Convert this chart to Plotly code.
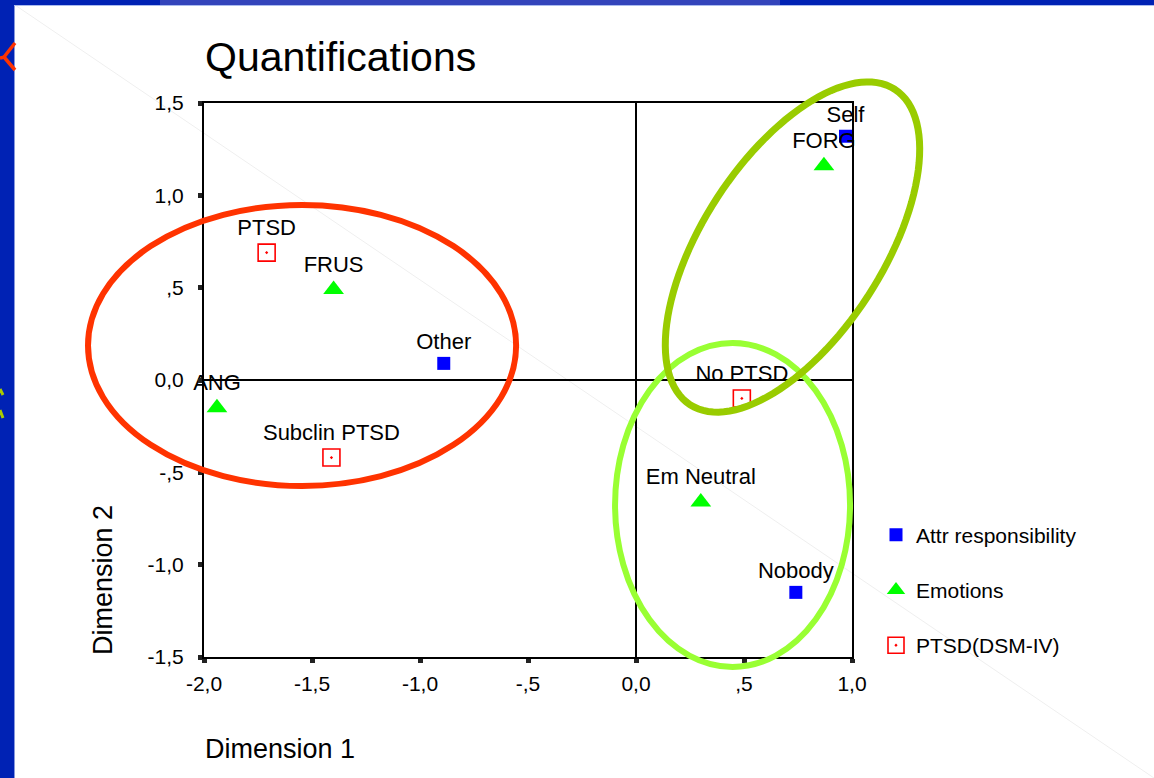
import math
import plotly.graph_objects as go

# ---------------- data ----------------
attr_labels = ["Self", "Other", "Nobody"]
attr_x = [0.97, -0.89, 0.74]
attr_y = [1.32, 0.09, -1.15]

emo_labels = ["FORG", "FRUS", "ANG", "Em Neutral"]
emo_x = [0.87, -1.40, -1.94, 0.30]
emo_y = [1.16, 0.49, -0.15, -0.66]

ptsd_labels = ["PTSD", "Subclin PTSD", "No PTSD"]
ptsd_x = [-1.71, -1.41, 0.49]
ptsd_y = [0.69, -0.42, -0.10]

x_ticks = [-2.0, -1.5, -1.0, -0.5, 0.0, 0.5, 1.0]
x_ticktext = ["-2,0", "-1,5", "-1,0", "-,5", "0,0", ",5", "1,0"]
y_ticks = [1.5, 1.0, 0.5, 0.0, -0.5, -1.0, -1.5]
y_ticktext = ["1,5", "1,0", ",5", "0,0", "-,5", "-1,0", "-1,5"]

X_RANGE = [-2.0, 1.0]
Y_RANGE = [-1.5, 1.5]

# ---------------- layout geometry ----------------
FIG_W, FIG_H = 1154, 778
M_L, M_R, M_T, M_B = 204, 302, 103, 121
PW = FIG_W - M_L - M_R
PH = FIG_H - M_T - M_B

FONT = "Liberation Sans, Arial, sans-serif"


def px2paper_x(px):
    return (px - M_L) / PW


def px2paper_y(py):
    return (FIG_H - M_B - py) / PH


def dx_dom(x):
    return (x - X_RANGE[0]) / (X_RANGE[1] - X_RANGE[0])


def dy_dom(y):
    return (y - Y_RANGE[0]) / (Y_RANGE[1] - Y_RANGE[0])


fig = go.Figure()

common_text = dict(mode="markers+text", textposition="top center",
                   textfont=dict(family=FONT, size=22, color="black"),
                   cliponaxis=False)

fig.add_trace(go.Scatter(
    x=attr_x, y=attr_y, text=attr_labels, name="Attr responsibility",
    legendgroup="a",
    marker=dict(symbol="square", size=13, color="#0000FF",
                line=dict(width=0)),
    **common_text))
fig.add_trace(go.Scatter(
    x=emo_x, y=emo_y, text=emo_labels, name="Emotions",
    legendgroup="b",
    marker=dict(symbol="triangle-up", size=18, color="#00FF00",
                line=dict(width=0)),
    **common_text))
fig.add_trace(go.Scatter(
    x=ptsd_x, y=ptsd_y, text=ptsd_labels, name="PTSD(DSM-IV)",
    legendgroup="c",
    marker=dict(symbol="square-open-dot", size=17, color="#FF0000",
                line=dict(width=1.6, color="#FF0000")),
    **common_text))

shapes = []

# slide decorations (background)
shapes.append(dict(type="line", xref="paper", yref="paper",
                   x0=px2paper_x(15), y0=px2paper_y(5),
                   x1=px2paper_x(1154), y1=px2paper_y(778),
                   line=dict(color="#efefef", width=1), layer="below"))
shapes.append(dict(type="rect", xref="paper", yref="paper",
                   x0=px2paper_x(0), x1=px2paper_x(14),
                   y0=px2paper_y(0), y1=px2paper_y(778),
                   fillcolor="#0022B4", line=dict(width=0), layer="below"))
shapes.append(dict(type="rect", xref="paper", yref="paper",
                   x0=px2paper_x(0), x1=px2paper_x(1154),
                   y0=px2paper_y(0), y1=px2paper_y(5),
                   fillcolor="#0022B4", line=dict(width=0), layer="below"))
shapes.append(dict(type="rect", xref="paper", yref="paper",
                   x0=px2paper_x(160), x1=px2paper_x(780),
                   y0=px2paper_y(0), y1=px2paper_y(5),
                   fillcolor="#3344BB", line=dict(width=0), layer="below"))
shapes.append(dict(type="line", xref="paper", yref="paper",
                   x0=px2paper_x(14.5), x1=px2paper_x(14.5),
                   y0=px2paper_y(5), y1=px2paper_y(778),
                   line=dict(color="#8899DD", width=1), layer="below"))
shapes.append(dict(type="line", xref="paper", yref="paper",
                   x0=px2paper_x(14), x1=px2paper_x(1154),
                   y0=px2paper_y(5.5), y1=px2paper_y(5.5),
                   line=dict(color="#AABBEE", width=1), layer="below"))
# red mark at top left
for (a, b, c, d) in [(15, 43, 4, 57), (4, 57, 15, 70), (0, 58, 5, 57)]:
    shapes.append(dict(type="line", xref="paper", yref="paper",
                       x0=px2paper_x(a), y0=px2paper_y(b),
                       x1=px2paper_x(c), y1=px2paper_y(d),
                       line=dict(color="#FF3300", width=3.5), layer="below"))
# yellow-green mark on left strip
for (a, b, c, d) in [(0, 389, 3, 395), (0, 410, 3, 418)]:
    shapes.append(dict(type="line", xref="paper", yref="paper",
                       x0=px2paper_x(a), y0=px2paper_y(b),
                       x1=px2paper_x(c), y1=px2paper_y(d),
                       line=dict(color="#AACC00", width=3), layer="below"))

# ellipses (annotation overlays, data-unit centres and radii)
red_c, red_r = (-1.546, 0.187), (0.991, 0.761)
lg_c, lg_r = (0.447, -0.677), (0.544, 0.877)
ol_c = (0.7245, 0.72)
ol_a, ol_b, ol_theta = 188.0, 90.0, 57.0   # semi-axes (px) and tilt (deg)

shapes.append(dict(type="circle", xref="x domain", yref="y domain",
                   x0=dx_dom(red_c[0] - red_r[0]), x1=dx_dom(red_c[0] + red_r[0]),
                   y0=dy_dom(red_c[1] - red_r[1]), y1=dy_dom(red_c[1] + red_r[1]),
                   line=dict(color="#FF3300", width=6), layer="above"))
shapes.append(dict(type="circle", xref="x domain", yref="y domain",
                   x0=dx_dom(lg_c[0] - lg_r[0]), x1=dx_dom(lg_c[0] + lg_r[0]),
                   y0=dy_dom(lg_c[1] - lg_r[1]), y1=dy_dom(lg_c[1] + lg_r[1]),
                   line=dict(color="#99FF33", width=6), layer="above"))

th = math.radians(ol_theta)
pts = []
n = 120
for i in range(n):
    t = 2 * math.pi * i / n
    dxp = ol_a * math.cos(t) * math.cos(th) - ol_b * math.sin(t) * math.sin(th)
    dyp = ol_a * math.cos(t) * math.sin(th) + ol_b * math.sin(t) * math.cos(th)
    xd = dx_dom(ol_c[0]) + dxp / PW
    yd = dy_dom(ol_c[1]) + dyp / PH
    pts.append(f"{xd:.5f},{yd:.5f}")
path = "M" + " L".join(pts) + " Z"
shapes.append(dict(type="path", xref="x domain", yref="y domain", path=path,
                   line=dict(color="#99CC00", width=7), layer="above"))

annotations = [
    dict(text="Dimension 1", xref="paper", yref="paper",
         x=px2paper_x(203), y=px2paper_y(749), xanchor="left", yanchor="middle",
         showarrow=False, font=dict(family=FONT, size=27, color="black")),
    dict(text="Dimension 2", xref="paper", yref="paper",
         x=px2paper_x(103), y=px2paper_y(580), xanchor="center", yanchor="middle",
         textangle=-90, showarrow=False,
         font=dict(family=FONT, size=27, color="black")),
]

axis_common = dict(showgrid=False, showline=True, mirror=True, linewidth=2,
                   linecolor="black", zeroline=True, zerolinecolor="black",
                   zerolinewidth=1.5, ticks="outside", ticklen=4, tickwidth=5,
                   tickcolor="#222222",
                   tickfont=dict(family=FONT, size=21, color="black"))

fig.update_layout(
    width=FIG_W, height=FIG_H,
    margin=dict(l=M_L, r=M_R, t=M_T, b=M_B, autoexpand=False),
    paper_bgcolor="white", plot_bgcolor="white",
    title=dict(text="Quantifications", x=px2paper_x(205), xref="paper",
               xanchor="left", y=1 - 57 / FIG_H, yref="container",
               yanchor="middle",
               font=dict(family=FONT, size=41, color="black")),
    xaxis=dict(range=X_RANGE, tickvals=x_ticks, ticktext=x_ticktext,
               ticklabelstandoff=3, **axis_common),
    yaxis=dict(range=Y_RANGE, tickvals=y_ticks, ticktext=y_ticktext,
               ticklabelstandoff=10, **axis_common),
    legend=dict(x=px2paper_x(876), y=px2paper_y(590), xanchor="left",
                yanchor="middle", traceorder="grouped", tracegroupgap=25,
                font=dict(family=FONT, size=21, color="black"),
                bgcolor="rgba(0,0,0,0)", borderwidth=0),
    shapes=shapes,
    annotations=annotations,
    showlegend=True,
)

fig.write_html("out.html",
               config={"displayModeBar": False},
               post_script="document.body.style.margin='0';")
